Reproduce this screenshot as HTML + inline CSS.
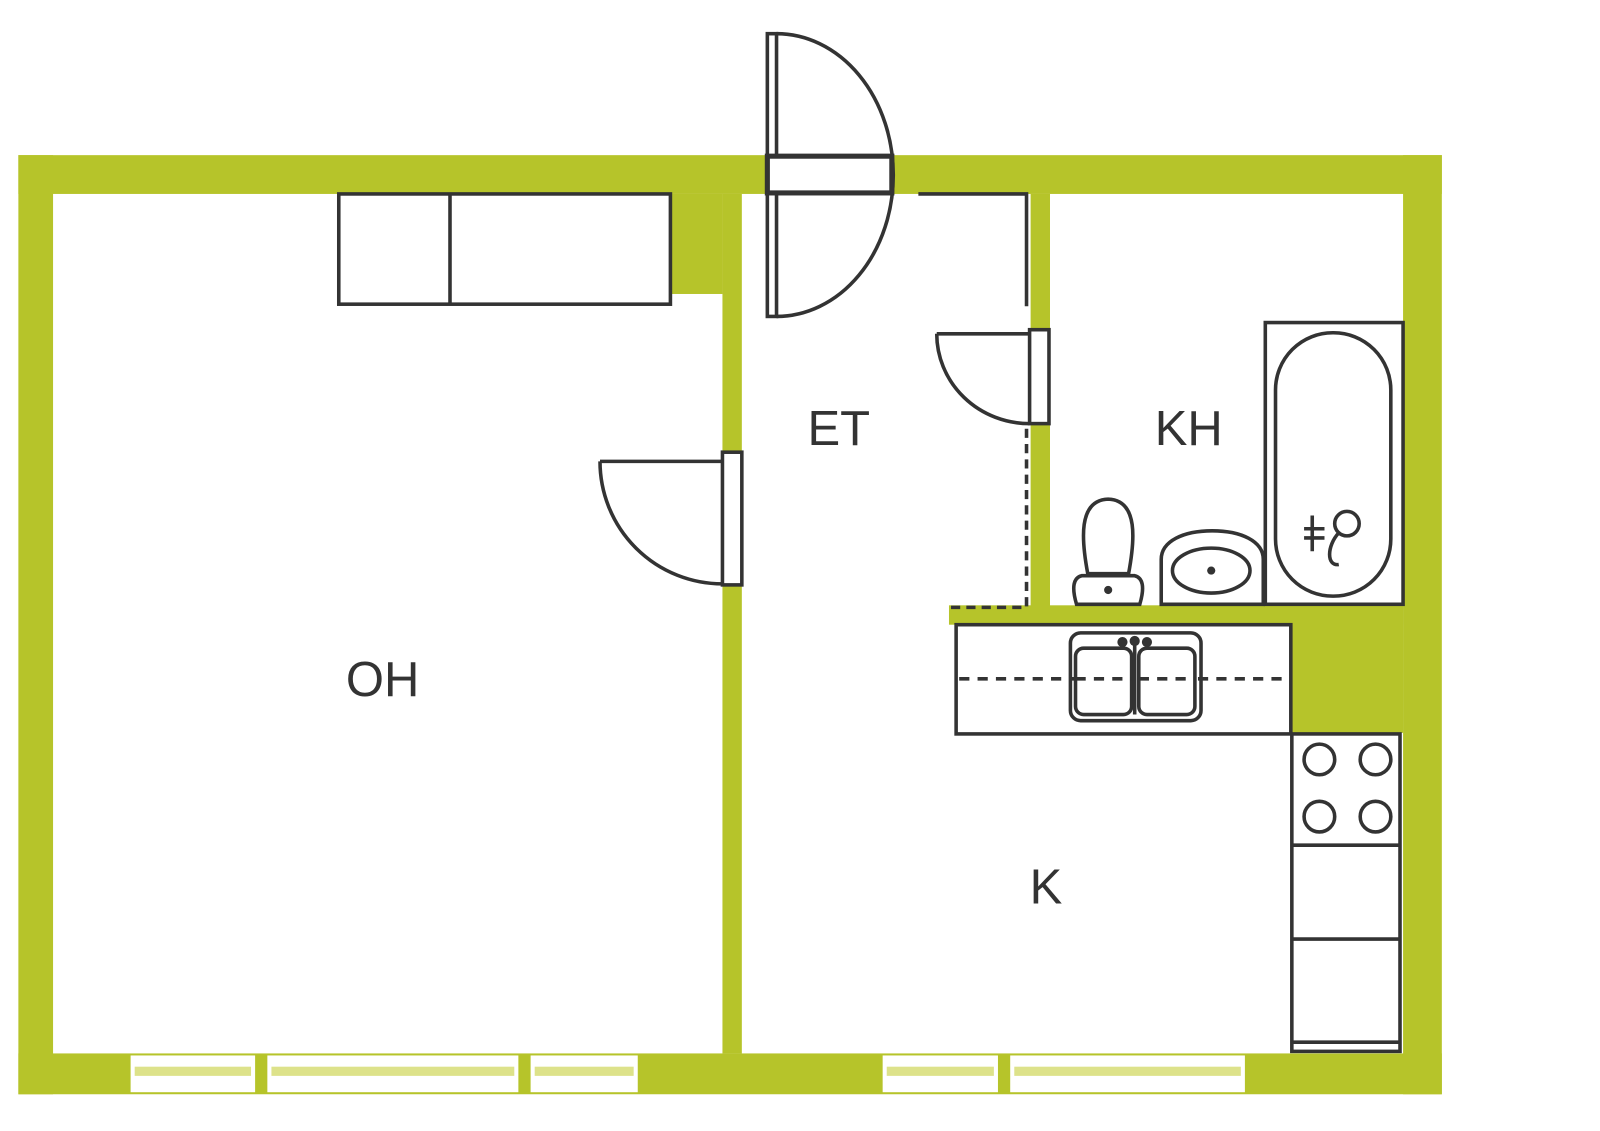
<!DOCTYPE html>
<html><head><meta charset="utf-8"><style>
html,body{margin:0;padding:0;background:#fff;}
svg{display:block;}
text{font-family:"Liberation Sans",sans-serif;fill:#333;}
</style></head><body>
<svg width="1600" height="1131" viewBox="0 0 1568 1108" preserveAspectRatio="none" xmlns="http://www.w3.org/2000/svg">
<rect width="1568" height="1108" fill="#fff"/>
<g fill="#b6c42a">
<rect x="18" y="152" width="1395" height="38"/>
<rect x="18" y="152" width="34" height="920"/>
<rect x="1375" y="152" width="38" height="920"/>
<rect x="18" y="1032" width="1395" height="40"/>
<rect x="708" y="190" width="19" height="842"/>
<rect x="657" y="190" width="51" height="98"/>
<rect x="1010" y="190" width="19" height="405"/>
<rect x="930" y="593" width="445" height="19"/>
<rect x="1265" y="593" width="110" height="125"/>
</g>
<g>
<rect x="128" y="1034" width="122" height="36" fill="#fff"/>
<rect x="262" y="1034" width="246" height="36" fill="#fff"/>
<rect x="520" y="1034" width="105" height="36" fill="#fff"/>
<rect x="865" y="1034" width="113" height="36" fill="#fff"/>
<rect x="990" y="1034" width="230" height="36" fill="#fff"/>
<g fill="#dde28a">
<rect x="132" y="1045" width="114" height="9"/>
<rect x="266" y="1045" width="238" height="9"/>
<rect x="524" y="1045" width="97" height="9"/>
<rect x="869" y="1045" width="105" height="9"/>
<rect x="994" y="1045" width="222" height="9"/>
</g>
</g>
<g fill="none" stroke="#333" stroke-width="3.5">
<rect x="332" y="190" width="325" height="108" fill="#fff"/>
<line x1="441" y1="190" x2="441" y2="298"/>
<!-- main door -->
<rect x="752" y="33" width="9" height="277" fill="#fff"/>
<path d="M761 33 A114 138 0 0 1 761 310"/>
<rect x="752" y="153" width="122" height="36" fill="#fff" stroke-width="5"/>
<path d="M900 190 H1006 V300"/>
<path d="M1006 420 V595 H930" stroke-dasharray="9 6"/>
<rect x="708" y="443" width="19" height="130" fill="#fff"/>
<path d="M588 452 H708"/>
<path d="M588 452 A120 120 0 0 0 708 572"/>
<rect x="1009" y="323" width="19" height="92" fill="#fff"/>
<path d="M918 327 H1009"/>
<path d="M918 327 A91 88 0 0 0 1009 415"/>
<rect x="1240" y="316" width="135" height="276" fill="#fff"/>
<rect x="1250" y="326" width="113" height="258" rx="56" ry="56"/>
<circle cx="1320" cy="513" r="12"/>
<path d="M1286 505 V540 M1278 518 H1298 M1278 527 H1298 M1312 522 C1300 535 1300 555 1312 553"/>
<path d="M1066 562 C1060 530 1056 490 1086 489 C1116 490 1112 530 1106 562 Z" fill="#fff"/>
<path d="M1055 592 C1050 575 1052 566 1060 564 H1112 C1120 566 1122 575 1117 592 Z" fill="#fff"/>
<path d="M1138 592 V548 C1138 530 1160 520 1188 520 C1216 520 1238 530 1238 548 V592 Z" fill="#fff"/>
<ellipse cx="1187" cy="559" rx="38" ry="22"/>
<rect x="937" y="612" width="328" height="107" fill="#fff"/>
<path d="M940 665 H1262" stroke-dasharray="10 8"/>
<rect x="1049" y="620" width="128" height="86" rx="10" fill="none"/>
<rect x="1054" y="635" width="55" height="65" rx="8" fill="#fff"/>
<rect x="1116" y="635" width="55" height="65" rx="8" fill="#fff"/>
<path d="M1054 665 H1109 M1116 665 H1171" stroke-dasharray="10 8"/>
<line x1="1112" y1="630" x2="1112" y2="700"/>
<rect x="1266" y="719" width="106" height="311" fill="#fff"/>
<line x1="1266" y1="828" x2="1372" y2="828"/>
<line x1="1266" y1="920" x2="1372" y2="920"/>
<line x1="1266" y1="1021" x2="1372" y2="1021"/>
<circle cx="1293" cy="744" r="15"/><circle cx="1348" cy="744" r="15"/>
<circle cx="1293" cy="800" r="15"/><circle cx="1348" cy="800" r="15"/>
</g>
<g fill="#333">
<circle cx="1086" cy="578" r="4"/>
<circle cx="1187" cy="559" r="4"/>
<circle cx="1100" cy="629" r="5"/><circle cx="1112" cy="628" r="5"/><circle cx="1124" cy="629" r="5"/>
</g>
<text x="375" y="682" font-size="48" text-anchor="middle">OH</text>
<text x="822" y="436" font-size="48" text-anchor="middle">ET</text>
<text x="1165" y="436" font-size="48" text-anchor="middle">KH</text>
<text x="1025" y="885" font-size="48" text-anchor="middle">K</text>
</svg>
</body></html>
